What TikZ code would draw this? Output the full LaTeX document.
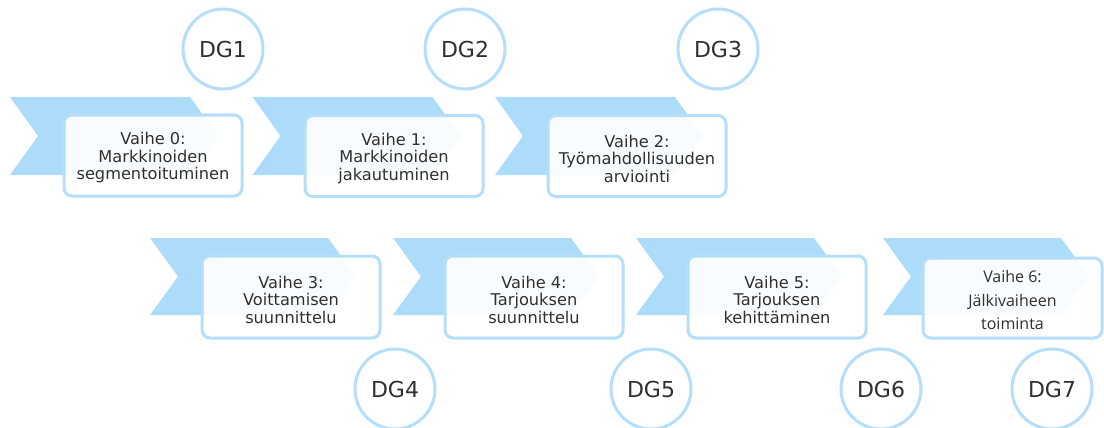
\documentclass[tikz,border=0pt]{standalone}
\usepackage{fontspec}
\setmainfont{DejaVu Sans}
\newfontfamily\lastfont{Open Sans}
\definecolor{chevfill}{RGB}{173,220,250}
\definecolor{lineblue}{RGB}{180,222,250}
\definecolor{txt}{RGB}{48,48,48}
\begin{document}
\begin{tikzpicture}[x=1pt,y=-1pt,
  chev/.style={fill=chevfill,draw=none},
  phasebox/.style={draw=lineblue,line width=3pt,rounded corners=8pt,
    fill=white,fill opacity=0.92,
    minimum width=178pt,minimum height=81pt,inner sep=0pt},
  phasetext/.style={align=center,inner sep=0pt,text=txt,
    font=\fontsize{16.2}{17.5}\selectfont},
  gate/.style={circle,draw=lineblue,line width=3pt,fill=white,
    minimum size=80pt,inner sep=0pt,text=txt,font=\fontsize{22}{26}\selectfont}]
\useasboundingbox (0,0) rectangle (1104,428);
\fill[white] (0,0) rectangle (1104,428);
% chevrons, first row
\foreach \x in {10,252.5,495}
  \fill[chev] (\x,97) -- ++(180,0) -- ++(28,39) -- ++(-28,39) -- ++(-180,0) -- ++(28,-39) -- cycle;
% chevrons, second row
\foreach \x in {150,393,636,883}
  \fill[chev] (\x,238) -- ++(178,0) -- ++(28,38.5) -- ++(-28,38.5) -- ++(-178,0) -- ++(28,-38.5) -- cycle;
% phase boxes
\node[phasebox] (p0) at (153,155.5) {};
\node[phasebox] (p1) at (394,156) {};
\node[phasebox] (p2) at (637,156) {};
\node[phasebox,minimum height=82pt] (p3) at (291,297) {};
\node[phasebox,minimum height=82pt] (p4) at (534,297) {};
\node[phasebox,minimum height=82pt] (p5) at (777,297) {};
\node[phasebox,minimum width=179pt,minimum height=80pt] (p6) at (1012.5,298) {};
% phase labels
\node[phasetext] (t0) at ([yshift=-2.5pt]p0.center) {Vaihe 0:\\Markkinoiden\\segmentoituminen};
\node[phasetext] (t1) at ([yshift=-2.5pt]p1.center) {Vaihe 1:\\Markkinoiden\\jakautuminen};
\node[phasetext] (t2) at ([yshift=-2.5pt]p2.center) {Vaihe 2:\\Työmahdollisuuden\\arviointi};
\node[phasetext] (t3) at ([yshift=-2.5pt]p3.center) {Vaihe 3:\\Voittamisen\\suunnittelu};
\node[phasetext] (t4) at ([yshift=-2.5pt]p4.center) {Vaihe 4:\\Tarjouksen\\suunnittelu};
\node[phasetext] (t5) at ([yshift=-2.5pt]p5.center) {Vaihe 5:\\Tarjouksen\\kehittäminen};
\node[phasetext,font=\lastfont\fontsize{16}{23.5}\selectfont] (t6) at ([yshift=-2pt]p6.center) {Vaihe 6:\\Jälkivaiheen\\toiminta};
% decision gates
\node[gate] (g1) at (223,49) {DG1};
\node[gate] (g2) at (465,49) {DG2};
\node[gate] (g3) at (718,49) {DG3};
\node[gate] (g4) at (395,389) {DG4};
\node[gate] (g5) at (651,389) {DG5};
\node[gate] (g6) at (881,389) {DG6};
\node[gate] (g7) at (1052,389) {DG7};
\end{tikzpicture}
\end{document}
